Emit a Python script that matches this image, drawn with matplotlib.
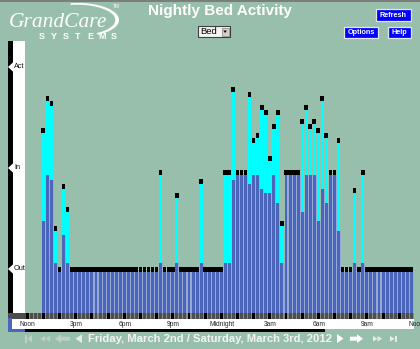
import matplotlib
matplotlib.use("Agg")
import matplotlib.pyplot as plt
import matplotlib.transforms as mtransforms
from matplotlib.patches import Rectangle, Polygon
import numpy as np

# ---------------------------------------------------------------- data
# 96 quarter-hour slots, noon to noon; one row per hour
N_SLOTS = 96
hour_labels = ["Noon", "3pm", "6pm", "9pm", "Midnight", "3am", "6am", "9am", "Noon"]
level_names = ["Out", "In", "Act"]
level_values = [44, 145, 246]

# bed presence level (blue) per slot, None = no reading
presence = (
    [None, None, None, None]          # 12pm
    + [92, 138, 133, 50]              # 1pm
    + [41, 78, 50, 41]                # 2pm
    + [41] * 20                       # 3pm - 7pm
    + [41, 50, 41, 41]                # 8pm
    + [41, 50, 41, 41]                # 9pm
    + [41, 41, 41, 50]                # 10pm
    + [41, 41, 41, 41]                # 11pm
    + [41, 50, 50, 133]               # midnight
    + [138, 138, 138, 129]            # 1am
    + [138, 138, 124, 120]            # 2am
    + [120, 138, 110, 50]             # 3am
    + [138, 138, 138, 138]            # 4am
    + [101, 138, 138, 138]            # 5am
    + [92, 124, 110, 138]             # 6am
    + [138, 82, 41, 41]               # 7am
    + [41, 50, 41, 50]                # 8am
    + [41] * 12                       # 9am - 11am
)

# top of the activity (cyan) reading per slot
activity = (
    [None, None, None, None]
    + [180, 212, 207, 82]
    + [41, 124, 101, 41]
    + [41] * 20
    + [41, 138, 41, 41]
    + [41, 115, 41, 41]
    + [41, 41, 41, 129]
    + [41, 41, 41, 41]
    + [41, 138, 138, 221]
    + [138, 138, 138, 216]
    + [170, 175, 203, 198]
    + [152, 184, 198, 87]
    + [138, 138, 138, 138]
    + [189, 203, 184, 189]
    + [180, 212, 175, 138]
    + [138, 170, 41, 41]
    + [41, 120, 41, 138]
    + [41] * 12
)

date_text = "Friday, March 2nd / Saturday, March 3rd, 2012"

# ---------------------------------------------------------------- style
W, H = 420, 349
BG = "#98bfab"
BLUE = "#4a65ba"
BLUE_GAP = "#97a9d6"
CYAN = "#00ffff"
CAP_H = 4.7
BAR_W = 0.73
SANS = ["Liberation Sans", "DejaVu Sans"]

fig = plt.figure(figsize=(W / 100, H / 100), dpi=100)
fig.patch.set_facecolor(BG)

# pixel-space layer for the page furniture
ov = fig.add_axes([0, 0, 1, 1])
ov.set_xlim(0, W)
ov.set_ylim(H, 0)
ov.axis("off")
ov.patch.set_alpha(0)

# chart area
ax = fig.add_axes([25.8 / W, 1 - 319 / H, 388.1 / W, 279 / H])
ax.set_xlim(0, N_SLOTS)
ax.set_ylim(-6, 273)
ax.axis("off")

# ---------------------------------------------------------------- bars
idx = np.array([i for i in range(N_SLOTS) if presence[i] is not None])
blue = np.array([presence[i] for i in idx], dtype=float)
top = np.array([activity[i] for i in idx], dtype=float)

# light seam between neighbouring presence bars
ax.bar(idx, blue, width=1.0, align="edge", color=BLUE_GAP, linewidth=0)
ax.bar(idx, blue, width=BAR_W, align="edge", color=BLUE, linewidth=0)
ax.bar(idx, top - blue, bottom=blue, width=BAR_W, align="edge",
       color=CYAN, linewidth=0)
ax.bar(idx - 0.12, CAP_H, bottom=top, width=0.92, align="edge",
       color="black", linewidth=0)

# slot strip under the bars, hour slots in black
ax.axhspan(-6, 0, color="#8a8a8a", linewidth=0)
slots = np.arange(N_SLOTS)
ax.bar(slots, 6, bottom=-6, width=BAR_W, align="edge", linewidth=0,
       color=["black" if s % 4 == 0 else "#4d4d4d" for s in slots])
ov.add_patch(Rectangle((8, 313), 17.8, 6, color="#4d4d4d", lw=0))

# ---------------------------------------------------------------- level scale
ov.add_patch(Rectangle((8, 41), 5, 272, color="black", lw=0))
ov.add_patch(Rectangle((13, 41), 12, 272, color="white", lw=0))
lvl_tr = mtransforms.blended_transform_factory(ov.transData, ax.transData)
for name, v in zip(level_names, level_values):
    ov.add_patch(Polygon([(8, v), (13, v + 4.6), (25, v + 4.6),
                          (25, v - 4.6), (13, v - 4.6)],
                         closed=True, color="white", lw=0,
                         transform=lvl_tr))
    ov.text(14, v, name, transform=lvl_tr, ha="left", va="center",
            fontsize=5.3, family=SANS, color="#111111")

# ---------------------------------------------------------------- time strip
time_box = Rectangle((12, 319), 402, 9.5, color="white", lw=0)
ov.add_patch(time_box)
ov.add_patch(Rectangle((8, 318), 4, 14, color=BLUE, lw=0))
ov.add_patch(Rectangle((8, 328.5), 17, 3.5, color=BLUE, lw=0))
ov.add_patch(Rectangle((25, 328.5), 300, 3, color="black", lw=0))
time_tr = mtransforms.blended_transform_factory(ax.transData, ov.transData)
for k, lab in enumerate(hour_labels):
    t = ov.text(k * 12 + 0.5, 324, lab, transform=time_tr, ha="center",
                va="center", fontsize=4.8, family=SANS, color="#222222")
    t.set_clip_path(time_box)

# ---------------------------------------------------------------- header
ov.add_patch(Rectangle((0, 0), W, 2, color="#7d7d7d", lw=0))
ov.text(220, 10.5, "Nightly Bed Activity", ha="center", va="center",
        fontsize=11, fontweight="bold", family=SANS, color="white")

# logo
ov.text(9, 27, "GrandCare", ha="left", va="baseline", fontsize=15.5,
        style="italic", family=["Liberation Serif", "DejaVu Serif"],
        color="white")
ov.text(113, 6, "TM", ha="left", va="center", fontsize=3.5,
        family=SANS, color="white")
for j, ch in enumerate("SYSTEMS"):
    ov.text(42 + j * 12, 36.8, ch, ha="center", va="center", fontsize=6.5,
            fontweight="bold", family=SANS, color="white")
t = np.radians(np.linspace(-100, 60, 80))
outer = np.column_stack([78 + 41 * np.cos(t), 20 + 17 * np.sin(t)])
inner = np.column_stack([77 + 38.3 * np.cos(t), 20 + 15.3 * np.sin(t)])
ov.add_patch(Polygon(np.vstack([outer, inner[::-1]]), closed=True,
                     color="white", lw=0))

# selector
ov.add_patch(Rectangle((198, 26), 32, 11, facecolor="#f4f4f4",
                       edgecolor="#404040", lw=0.8))
ov.add_patch(Rectangle((221.5, 27.5), 7, 8, facecolor="#d4d0c8",
                       edgecolor="#808080", lw=0.5))
ov.add_patch(Polygon([(223.3, 30.5), (226.9, 30.5), (225.1, 33)],
                     closed=True, color="black", lw=0))
ov.text(200, 31.8, "Bed", ha="left", va="center", fontsize=6.8,
        family=SANS, color="black")

# buttons
for (bx, by, bw, bh, lab) in [(376, 9, 35, 12, "Refresh"),
                              (344, 26.5, 34, 11.5, "Options"),
                              (388, 26.5, 23, 11.5, "Help")]:
    ov.add_patch(Rectangle((bx, by), bw, bh, facecolor="#0000ff",
                           edgecolor="#e6e6f0", lw=0.9))
    ov.text(bx + bw / 2, by + bh / 2 + 0.3, lab, ha="center", va="center",
            fontsize=5.2, fontweight="bold", family=SANS, color="white")

# ---------------------------------------------------------------- footer
ov.text(210.5, 339, date_text, ha="center", va="center", fontsize=8.1,
        fontweight="bold", family=SANS, color="#f4f4f4")

FADED = "#bcd0c6"
LIGHT = "#e4ece8"
def shape(pts, color):
    ov.add_patch(Polygon(pts, closed=True, color=color, lw=0))

# back controls
shape([(25, 334.8), (27, 334.8), (27, 342.6), (25, 342.6)], FADED)
shape([(32, 334.8), (32, 342.6), (27.3, 338.7)], FADED)
shape([(45, 335.8), (45, 341.6), (40.3, 338.7)], FADED)
shape([(50, 335.8), (50, 341.6), (45.3, 338.7)], FADED)
shape([(55, 338.7), (61, 334.3), (61, 336.7), (70, 336.7), (70, 340.7),
       (61, 340.7), (61, 343.1)], FADED)
shape([(82, 334.2), (82, 343.2), (75.5, 338.7)], LIGHT)
# forward controls
shape([(337, 334), (337, 343.2), (343.5, 338.6)], "white")
shape([(363, 338.7), (357, 334.3), (357, 336.7), (350, 336.7), (350, 340.7),
       (357, 340.7), (357, 343.1)], "white")
shape([(373, 336), (373, 341.5), (377.6, 338.7)], LIGHT)
shape([(377.6, 336), (377.6, 341.5), (382.2, 338.7)], LIGHT)
shape([(390, 336), (390, 341.5), (394.8, 338.7)], LIGHT)
shape([(395, 335.8), (397, 335.8), (397, 341.7), (395, 341.7)], LIGHT)

fig.savefig("out.png", dpi=100, facecolor=BG)
